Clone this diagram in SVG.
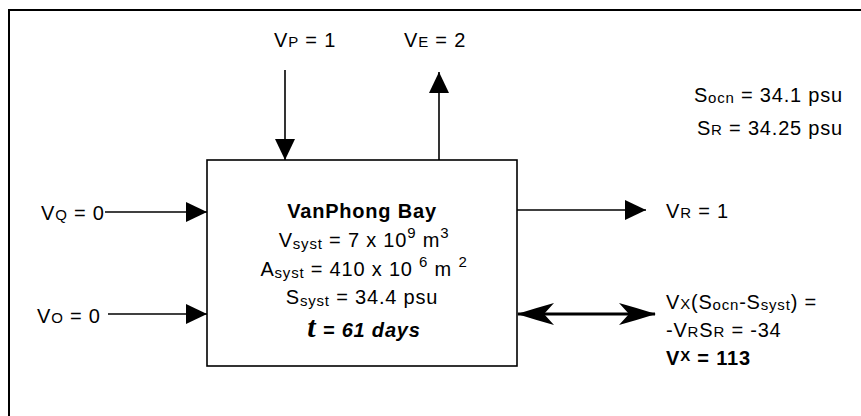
<svg xmlns="http://www.w3.org/2000/svg" width="861" height="416" viewBox="0 0 861 416">
<style>
text{font-family:"Liberation Sans",Arial,sans-serif;font-size:20px;letter-spacing:0.8px;fill:#000}
.sm{font-size:15px}
.b{font-weight:bold}
.ln{stroke:#000;stroke-width:1.6;fill:none}
.thick{stroke:#000;stroke-width:3;fill:none}
.frame{fill:none;stroke:#000;stroke-width:2}
.box{fill:#fff;stroke:#000;stroke-width:1.6}
</style>
<defs>
<marker id="tri" viewBox="0 0 21 20" refX="21" refY="10" markerWidth="21" markerHeight="20" markerUnits="userSpaceOnUse" orient="auto">
<path d="M0,0 L21,10 L0,20 z" fill="#000"/>
</marker>
<marker id="stealth" viewBox="0 0 37 22" refX="36" refY="11" markerWidth="37" markerHeight="22" markerUnits="userSpaceOnUse" orient="auto-start-reverse">
<path d="M37,11 Q18,5 0,0 L10,11 L0,22 Q18,17 37,11 z" fill="#000"/>
</marker>
</defs>
<rect class="frame" x="9" y="10" width="900" height="500"/>
<g id="connectors">
<line class="ln" x1="285" y1="70" x2="285" y2="160" marker-end="url(#tri)"/>
<line class="ln" x1="439" y1="160" x2="439" y2="72" marker-end="url(#tri)"/>
<line class="ln" x1="105" y1="212" x2="207" y2="212" marker-end="url(#tri)"/>
<line class="ln" x1="108" y1="314" x2="207" y2="314" marker-end="url(#tri)"/>
<line class="ln" x1="517" y1="210" x2="646" y2="210" marker-end="url(#tri)"/>
<line class="thick" x1="518" y1="314" x2="655" y2="314" marker-start="url(#stealth)" marker-end="url(#stealth)"/>
</g>
<g id="bay">
<rect class="box" x="207" y="160" width="310" height="206"/>
<text class="b" x="362" y="218" text-anchor="middle">VanPhong Bay</text>
<text x="364" y="247" text-anchor="middle">V<tspan class="sm" dy="2">syst</tspan><tspan dy="-2"> = 7 x 10</tspan><tspan class="sm" dy="-9">9</tspan><tspan dy="9"> m</tspan><tspan class="sm" dy="-9">3</tspan></text>
<text x="364" y="276" text-anchor="middle">A<tspan class="sm" dy="2">syst</tspan><tspan dy="-2"> = 410 x 10 </tspan><tspan class="sm" dy="-9">6</tspan><tspan dy="9"> m </tspan><tspan class="sm" dy="-9">2</tspan></text>
<text x="362" y="304" text-anchor="middle">S<tspan class="sm" dy="2">syst</tspan><tspan dy="-2"> = 34.4 psu</tspan></text>
<text class="b" x="364" y="337" text-anchor="middle" font-style="italic"><tspan font-size="30px" font-family="'Liberation Serif',serif">t</tspan>  =  61 days</text>
</g>
<g id="vp"><text x="274" y="47">V<tspan class="sm">P</tspan> = 1</text></g>
<g id="ve"><text x="404" y="47">V<tspan class="sm">E</tspan> = 2</text></g>
<g id="vq"><text x="41" y="220">V<tspan class="sm">Q</tspan> = 0</text></g>
<g id="vo"><text x="37" y="323">V<tspan class="sm">O</tspan> = 0</text></g>
<g id="vr"><text x="666" y="218">V<tspan class="sm">R</tspan> = 1</text></g>
<g id="salinity">
<text x="843" y="102" text-anchor="end">S<tspan class="sm" dy="1">ocn</tspan><tspan dy="-1"> = 34.1 psu</tspan></text>
<text x="843" y="135" text-anchor="end">S<tspan class="sm">R</tspan> = 34.25 psu</text>
</g>
<g id="vx">
<text x="666" y="309">V<tspan class="sm">X</tspan>(S<tspan class="sm" dy="1">ocn</tspan><tspan dy="-1">-S</tspan><tspan class="sm" dy="1">syst</tspan><tspan dy="-1">) =</tspan></text>
<text x="666" y="337">-V<tspan class="sm">R</tspan>S<tspan class="sm">R</tspan> = -34</text>
<text class="b" x="666" y="365">V<tspan class="sm" dy="-4">X</tspan><tspan dy="4"> = 113</tspan></text>
</g>
</svg>
